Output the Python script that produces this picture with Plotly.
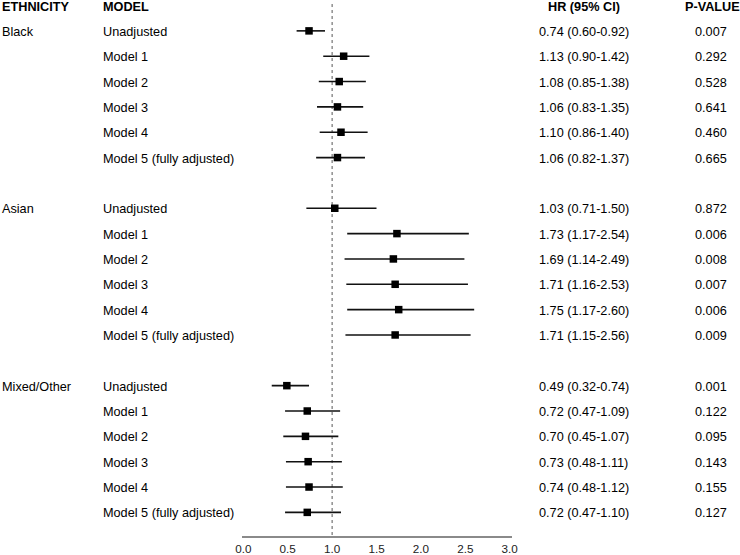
import plotly.graph_objects as go

ethnicity = ["Black", "Asian", "Mixed/Other"]
models = ["Unadjusted", "Model 1", "Model 2", "Model 3", "Model 4", "Model 5 (fully adjusted)"]

hr = [0.74, 1.13, 1.08, 1.06, 1.10, 1.06,
      1.03, 1.73, 1.69, 1.71, 1.75, 1.71,
      0.49, 0.72, 0.70, 0.73, 0.74, 0.72]
lo = [0.60, 0.90, 0.85, 0.83, 0.86, 0.82,
      0.71, 1.17, 1.14, 1.16, 1.17, 1.15,
      0.32, 0.47, 0.45, 0.48, 0.48, 0.47]
hi = [0.92, 1.42, 1.38, 1.35, 1.40, 1.37,
      1.50, 2.54, 2.49, 2.53, 2.60, 2.56,
      0.74, 1.09, 1.07, 1.11, 1.12, 1.10]
pvals = ["0.007", "0.292", "0.528", "0.641", "0.460", "0.665",
         "0.872", "0.006", "0.008", "0.007", "0.006", "0.009",
         "0.001", "0.122", "0.095", "0.143", "0.155", "0.127"]

tick_vals = [0, 0.5, 1.0, 1.5, 2.0, 2.5, 3.0]
tick_text = ["0.0", "0.5", "1.0", "1.5", "2.0", "2.5", "3.0"]
headers = ["ETHNICITY", "MODEL", "HR (95% CI)", "P-VALUE"]

W, H = 755, 555
FONT = "Liberation Sans, Arial, sans-serif"

def X(x):  # target image px -> figure px (horizontal)
    return x * W / 740.0

def Yp(y):  # target image px -> figure px (vertical)
    return y * 1.009

rows = []
for g in range(len(ethnicity)):
    for m in range(len(models)):
        rows.append(1 + g * (len(models) + 1) + m)

fig = go.Figure()
fig.add_trace(go.Scatter(
    x=hr, y=rows, mode="markers",
    marker=dict(symbol="square", size=7.5, color="#000000"),
    error_x=dict(type="data", symmetric=False,
                 array=[h - c for h, c in zip(hi, hr)],
                 arrayminus=[c - l for c, l in zip(hr, lo)],
                 color="#111111", thickness=1.6, width=0),
    showlegend=False, hoverinfo="skip",
))

def pxp(x):
    return X(x) / W

ann = []
ann.append(dict(x=pxp(0.5), y=0, text="<b>%s</b>" % headers[0], xanchor="left"))
ann.append(dict(x=pxp(102), y=0, text="<b>%s</b>" % headers[1], xanchor="left"))
ann.append(dict(x=pxp(583), y=0, text="<b>%s</b>" % headers[2], xanchor="center"))
ann.append(dict(x=pxp(712), y=0, text="<b>%s</b>" % headers[3], xanchor="center"))

for g, eth in enumerate(ethnicity):
    ann.append(dict(x=pxp(0.5), y=1 + g * (len(models) + 1), text=eth, xanchor="left"))

for i, r in enumerate(rows):
    ann.append(dict(x=pxp(102), y=r, text=models[i % len(models)], xanchor="left"))
    ann.append(dict(x=pxp(583), y=r, text="%.2f (%.2f-%.2f)" % (hr[i], lo[i], hi[i]), xanchor="center"))
    ann.append(dict(x=pxp(710), y=r, text=pvals[i], xanchor="center"))

annotations = []
for a in ann:
    a.update(xref="paper", yref="y", showarrow=False, yanchor="middle",
             borderpad=0, yshift=-1,
             font=dict(family=FONT, size=12.7, color="#000000"))
    annotations.append(a)

# plot geometry (target image px)
axis_y = Yp(533.0)
row0 = Yp(5.5)
row_h = Yp(25.2)
top_r = -row0 / row_h
bot_r = (axis_y - row0) / row_h
x_zero, x_three = X(243), X(509)
ppu = (x_three - x_zero) / 3.0
ax_l, ax_r = X(242), X(511)
rng = [(ax_l - x_zero) / ppu, (ax_r - x_zero) / ppu]

fig.update_layout(
    width=W, height=H,
    margin=dict(l=0, r=0, t=0, b=H - axis_y),
    paper_bgcolor="white", plot_bgcolor="white",
    annotations=annotations,
    xaxis=dict(domain=[ax_l / W, ax_r / W], range=rng,
               tickvals=tick_vals, ticktext=tick_text,
               showline=True, linecolor="#8a8a8a", linewidth=1.5,
               ticks="outside", ticklen=1, tickcolor="rgba(0,0,0,0)",
               showgrid=False, zeroline=False,
               tickfont=dict(family=FONT, size=11.7, color="#222222")),
    yaxis=dict(range=[bot_r, top_r], visible=False, showgrid=False, zeroline=False),
    shapes=[dict(type="line", xref="x", yref="y", x0=1, x1=1,
                 y0=(Yp(4) - row0) / row_h, y1=bot_r,
                 line=dict(color="#555555", width=1, dash="dot"), layer="below")],
)

fig.write_html("out.html", config={"displayModeBar": False},
               post_script="document.body.style.margin='0';document.body.style.marginLeft='-7px';document.body.style.overflow='hidden';")
